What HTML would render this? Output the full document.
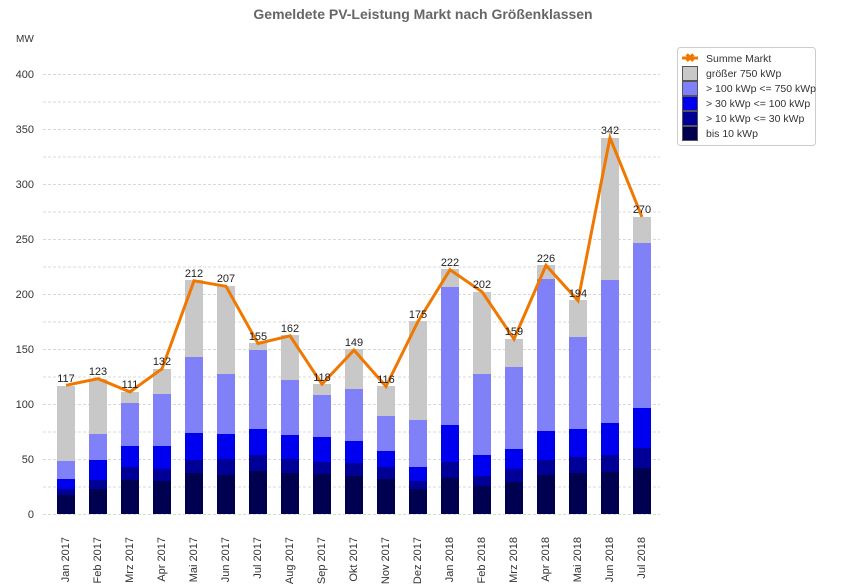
<!DOCTYPE html>
<html><head><meta charset="utf-8"><style>
html,body{margin:0;padding:0;background:#fff}
svg{display:block;font-family:"Liberation Sans",Arial,sans-serif}
</style></head><body>
<svg width="847" height="584" viewBox="0 0 847 584" xmlns="http://www.w3.org/2000/svg">
<text x="423" y="19" text-anchor="middle" font-size="14" font-weight="bold" fill="#666">Gemeldete PV-Leistung Markt nach Größenklassen</text>
<text x="16" y="42" font-size="10" fill="#333">MW</text>
<g stroke="#d8d8d8" stroke-dasharray="3,2" stroke-width="1">
<line x1="43" x2="660" y1="74.5" y2="74.5"/><line x1="43" x2="660" y1="102" y2="102"/>
<line x1="43" x2="660" y1="129.5" y2="129.5"/><line x1="43" x2="660" y1="157" y2="157"/>
<line x1="43" x2="660" y1="184.5" y2="184.5"/><line x1="43" x2="660" y1="212" y2="212"/>
<line x1="43" x2="660" y1="239.5" y2="239.5"/><line x1="43" x2="660" y1="267" y2="267"/>
<line x1="43" x2="660" y1="294.5" y2="294.5"/><line x1="43" x2="660" y1="322" y2="322"/>
<line x1="43" x2="660" y1="349.5" y2="349.5"/><line x1="43" x2="660" y1="377" y2="377"/>
<line x1="43" x2="660" y1="404.5" y2="404.5"/><line x1="43" x2="660" y1="432" y2="432"/>
<line x1="43" x2="660" y1="459.5" y2="459.5"/><line x1="43" x2="660" y1="487" y2="487"/>
<line x1="43" x2="660" y1="514.5" y2="514.5"/>
</g>
<g font-size="11" fill="#333" text-anchor="end">
<text x="34" y="78">400</text><text x="34" y="133">350</text><text x="34" y="188">300</text>
<text x="34" y="243">250</text><text x="34" y="298">200</text><text x="34" y="353">150</text>
<text x="34" y="408">100</text><text x="34" y="463">50</text><text x="34" y="518">0</text>
</g>
<g id="bars">
<rect x="57" y="495" width="18" height="19" fill="#000050"/><rect x="57" y="489" width="18" height="6" fill="#000096"/><rect x="57" y="479" width="18" height="10" fill="#0000f0"/><rect x="57" y="461" width="18" height="18" fill="#8080f8"/><rect x="57" y="386" width="18" height="75" fill="#c8c8c8"/>
<rect x="89" y="489" width="18" height="25" fill="#000050"/><rect x="89" y="480" width="18" height="9" fill="#000096"/><rect x="89" y="460" width="18" height="20" fill="#0000f0"/><rect x="89" y="434" width="18" height="26" fill="#8080f8"/><rect x="89" y="379" width="18" height="55" fill="#c8c8c8"/>
<rect x="121" y="480" width="18" height="34" fill="#000050"/><rect x="121" y="467" width="18" height="13" fill="#000096"/><rect x="121" y="446" width="18" height="21" fill="#0000f0"/><rect x="121" y="403" width="18" height="43" fill="#8080f8"/><rect x="121" y="392" width="18" height="11" fill="#c8c8c8"/>
<rect x="153" y="481" width="18" height="33" fill="#000050"/><rect x="153" y="469" width="18" height="12" fill="#000096"/><rect x="153" y="446" width="18" height="23" fill="#0000f0"/><rect x="153" y="394" width="18" height="52" fill="#8080f8"/><rect x="153" y="369" width="18" height="25" fill="#c8c8c8"/>
<rect x="185" y="473" width="18" height="41" fill="#000050"/><rect x="185" y="460" width="18" height="13" fill="#000096"/><rect x="185" y="433" width="18" height="27" fill="#0000f0"/><rect x="185" y="357" width="18" height="76" fill="#8080f8"/><rect x="185" y="280" width="18" height="77" fill="#c8c8c8"/>
<rect x="217" y="475" width="18" height="39" fill="#000050"/><rect x="217" y="459" width="18" height="16" fill="#000096"/><rect x="217" y="434" width="18" height="25" fill="#0000f0"/><rect x="217" y="374" width="18" height="60" fill="#8080f8"/><rect x="217" y="286" width="18" height="88" fill="#c8c8c8"/>
<rect x="249" y="471" width="18" height="43" fill="#000050"/><rect x="249" y="455" width="18" height="16" fill="#000096"/><rect x="249" y="429" width="18" height="26" fill="#0000f0"/><rect x="249" y="350" width="18" height="79" fill="#8080f8"/><rect x="249" y="343" width="18" height="7" fill="#c8c8c8"/>
<rect x="281" y="473" width="18" height="41" fill="#000050"/><rect x="281" y="459" width="18" height="14" fill="#000096"/><rect x="281" y="435" width="18" height="24" fill="#0000f0"/><rect x="281" y="380" width="18" height="55" fill="#8080f8"/><rect x="281" y="335" width="18" height="45" fill="#c8c8c8"/>
<rect x="313" y="474" width="18" height="40" fill="#000050"/><rect x="313" y="462" width="18" height="12" fill="#000096"/><rect x="313" y="437" width="18" height="25" fill="#0000f0"/><rect x="313" y="395" width="18" height="42" fill="#8080f8"/><rect x="313" y="384" width="18" height="11" fill="#c8c8c8"/>
<rect x="345" y="476" width="18" height="38" fill="#000050"/><rect x="345" y="463" width="18" height="13" fill="#000096"/><rect x="345" y="441" width="18" height="22" fill="#0000f0"/><rect x="345" y="389" width="18" height="52" fill="#8080f8"/><rect x="345" y="349" width="18" height="40" fill="#c8c8c8"/>
<rect x="377" y="479" width="18" height="35" fill="#000050"/><rect x="377" y="467" width="18" height="12" fill="#000096"/><rect x="377" y="451" width="18" height="16" fill="#0000f0"/><rect x="377" y="416" width="18" height="35" fill="#8080f8"/><rect x="377" y="386" width="18" height="30" fill="#c8c8c8"/>
<rect x="409" y="489" width="18" height="25" fill="#000050"/><rect x="409" y="481" width="18" height="8" fill="#000096"/><rect x="409" y="467" width="18" height="14" fill="#0000f0"/><rect x="409" y="420" width="18" height="47" fill="#8080f8"/><rect x="409" y="321" width="18" height="99" fill="#c8c8c8"/>
<rect x="441" y="478" width="18" height="36" fill="#000050"/><rect x="441" y="462" width="18" height="16" fill="#000096"/><rect x="441" y="425" width="18" height="37" fill="#0000f0"/><rect x="441" y="287" width="18" height="138" fill="#8080f8"/><rect x="441" y="269" width="18" height="18" fill="#c8c8c8"/>
<rect x="473" y="486" width="18" height="28" fill="#000050"/><rect x="473" y="476" width="18" height="10" fill="#000096"/><rect x="473" y="455" width="18" height="21" fill="#0000f0"/><rect x="473" y="374" width="18" height="81" fill="#8080f8"/><rect x="473" y="292" width="18" height="82" fill="#c8c8c8"/>
<rect x="505" y="482" width="18" height="32" fill="#000050"/><rect x="505" y="469" width="18" height="13" fill="#000096"/><rect x="505" y="449" width="18" height="20" fill="#0000f0"/><rect x="505" y="367" width="18" height="82" fill="#8080f8"/><rect x="505" y="339" width="18" height="28" fill="#c8c8c8"/>
<rect x="537" y="475" width="18" height="39" fill="#000050"/><rect x="537" y="460" width="18" height="15" fill="#000096"/><rect x="537" y="431" width="18" height="29" fill="#0000f0"/><rect x="537" y="279" width="18" height="152" fill="#8080f8"/><rect x="537" y="265" width="18" height="14" fill="#c8c8c8"/>
<rect x="569" y="473" width="18" height="41" fill="#000050"/><rect x="569" y="457" width="18" height="16" fill="#000096"/><rect x="569" y="429" width="18" height="28" fill="#0000f0"/><rect x="569" y="337" width="18" height="92" fill="#8080f8"/><rect x="569" y="300" width="18" height="37" fill="#c8c8c8"/>
<rect x="601" y="472" width="18" height="42" fill="#000050"/><rect x="601" y="455" width="18" height="17" fill="#000096"/><rect x="601" y="423" width="18" height="32" fill="#0000f0"/><rect x="601" y="280" width="18" height="143" fill="#8080f8"/><rect x="601" y="138" width="18" height="142" fill="#c8c8c8"/>
<rect x="633" y="468" width="18" height="46" fill="#000050"/><rect x="633" y="448" width="18" height="20" fill="#000096"/><rect x="633" y="408" width="18" height="40" fill="#0000f0"/><rect x="633" y="243" width="18" height="165" fill="#8080f8"/><rect x="633" y="217" width="18" height="26" fill="#c8c8c8"/>
</g>
<polyline fill="none" stroke="#f07800" stroke-width="3" stroke-linejoin="miter" points="66,385.3 98,378.7 130,391.9 162,368.8 194,280.8 226,286.3 258,343.5 290,335.8 322,384.2 354,350.1 386,386.4 418,321.5 450,269.8 482,291.8 514,339.1 546,265.4 578,300.6 610,137.8 642,217"/>
<g font-size="11" fill="#222" text-anchor="middle">
<text x="66" y="382">117</text><text x="98" y="375">123</text><text x="130" y="388">111</text><text x="162" y="365">132</text>
<text x="194" y="277">212</text><text x="226" y="282">207</text><text x="258" y="340">155</text><text x="290" y="332">162</text>
<text x="322" y="381">118</text><text x="354" y="346">149</text><text x="386" y="383">116</text><text x="418" y="318">175</text>
<text x="450" y="266">222</text><text x="482" y="288">202</text><text x="514" y="335">159</text><text x="546" y="262">226</text>
<text x="578" y="297">194</text><text x="610" y="134">342</text><text x="642" y="213">270</text>
</g>
<g font-size="11" fill="#333" text-anchor="end">
<text transform="translate(69,537) rotate(-90)">Jan 2017</text>
<text transform="translate(101,537) rotate(-90)">Feb 2017</text>
<text transform="translate(133,537) rotate(-90)">Mrz 2017</text>
<text transform="translate(165,537) rotate(-90)">Apr 2017</text>
<text transform="translate(197,537) rotate(-90)">Mai 2017</text>
<text transform="translate(229,537) rotate(-90)">Jun 2017</text>
<text transform="translate(261,537) rotate(-90)">Jul 2017</text>
<text transform="translate(293,537) rotate(-90)">Aug 2017</text>
<text transform="translate(325,537) rotate(-90)">Sep 2017</text>
<text transform="translate(357,537) rotate(-90)">Okt 2017</text>
<text transform="translate(389,537) rotate(-90)">Nov 2017</text>
<text transform="translate(421,537) rotate(-90)">Dez 2017</text>
<text transform="translate(453,537) rotate(-90)">Jan 2018</text>
<text transform="translate(485,537) rotate(-90)">Feb 2018</text>
<text transform="translate(517,537) rotate(-90)">Mrz 2018</text>
<text transform="translate(549,537) rotate(-90)">Apr 2018</text>
<text transform="translate(581,537) rotate(-90)">Mai 2018</text>
<text transform="translate(613,537) rotate(-90)">Jun 2018</text>
<text transform="translate(645,537) rotate(-90)">Jul 2018</text>
</g>
<rect x="677.5" y="47.5" width="138" height="98" rx="3" fill="#fff" stroke="#ccc"/>
<g font-size="10.5" fill="#333">
<line x1="682" y1="58" x2="698" y2="58" stroke="#f07800" stroke-width="3"/>
<text x="690" y="62" text-anchor="middle" fill="#f07800" font-weight="bold" font-size="12">✖</text>
<text x="706" y="62">Summe Markt</text>
<rect x="682.5" y="66.5" width="15" height="14" fill="#c8c8c8" stroke="#555"/><text x="706" y="77">größer 750 kWp</text>
<rect x="682.5" y="81.5" width="15" height="14" fill="#8080f8" stroke="#555"/><text x="706" y="92">&gt; 100 kWp &lt;= 750 kWp</text>
<rect x="682.5" y="96.5" width="15" height="14" fill="#0000f0" stroke="#555"/><text x="706" y="107">&gt; 30 kWp &lt;= 100 kWp</text>
<rect x="682.5" y="111.5" width="15" height="14" fill="#000096" stroke="#555"/><text x="706" y="122">&gt; 10 kWp &lt;= 30 kWp</text>
<rect x="682.5" y="126.5" width="15" height="14" fill="#000050" stroke="#555"/><text x="706" y="137">bis 10 kWp</text>
</g>
</svg>
</body></html>
